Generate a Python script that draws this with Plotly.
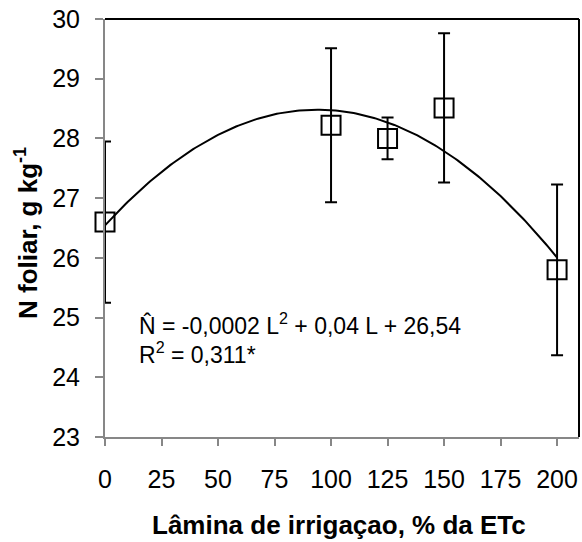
import plotly.graph_objects as go

# Irrigation depth (% of ETc) and mean foliar N (g/kg) with standard deviation
lamina = [0, 100, 125, 150, 200]
n_foliar = [26.6, 28.22, 28.0, 28.51, 25.8]
n_desvio = [1.35, 1.29, 0.35, 1.25, 1.43]

# Quadratic fit coefficients (a*L^2 + b*L + c)
coef_a = -0.00022
coef_b = 0.0413
coef_c = 26.544

x_ticks = [0, 25, 50, 75, 100, 125, 150, 175, 200]
y_ticks = [23, 24, 25, 26, 27, 28, 29, 30]

curve_x = [i for i in range(0, 201)]
curve_y = [coef_a * x * x + coef_b * x + coef_c for x in curve_x]

font_main = "Liberation Sans, Arial, sans-serif"
grey = "#878787"

fig = go.Figure()

fig.add_trace(go.Scatter(
    x=curve_x, y=curve_y, mode="lines",
    line=dict(color="black", width=2),
    hoverinfo="skip", showlegend=False, cliponaxis=False,
))

fig.add_trace(go.Scatter(
    x=lamina, y=n_foliar, mode="markers",
    marker=dict(symbol="square-open", size=19, color="black",
                line=dict(color="black", width=2)),
    error_y=dict(type="data", array=n_desvio, visible=True,
                 color="black", thickness=2, width=6),
    showlegend=False, cliponaxis=False,
))

fig.update_layout(
    width=582, height=542,
    margin=dict(l=105, r=3, t=19, b=105),
    paper_bgcolor="white", plot_bgcolor="white",
    font=dict(family=font_main, size=25, color="black"),
    xaxis=dict(
        range=[0, 209.7], tickvals=x_ticks, ticktext=[str(v) for v in x_ticks],
        showgrid=False, zeroline=False, showline=True, linecolor=grey, linewidth=2,
        ticks="outside", ticklen=7, tickwidth=2, tickcolor=grey,
        ticklabelstandoff=12, tickfont=dict(size=25, color="black"),
    ),
    yaxis=dict(
        range=[23, 30], tickvals=y_ticks, ticktext=[str(v) for v in y_ticks],
        showgrid=False, zeroline=False, showline=True, linecolor=grey, linewidth=2,
        ticks="outside", ticklen=8, tickwidth=2, tickcolor=grey,
        ticklabelstandoff=10, tickfont=dict(size=25, color="black"),
    ),
    shapes=[
        dict(type="line", xref="paper", yref="paper", x0=0, x1=1, y0=1, y1=1,
             line=dict(color="black", width=2)),
        dict(type="line", xref="paper", yref="paper", x0=1, x1=1, y0=0, y1=1,
             line=dict(color="black", width=2)),
    ],
    annotations=[
        dict(text="<b>Lâmina de irrigaçao, % da ETc</b>", xref="paper", yref="paper",
             x=(339 - 105) / 474, y=-(525 - 437) / 418, xanchor="center", yanchor="middle",
             showarrow=False, font=dict(size=26)),
        dict(text="<b>N foliar, g kg<sup>-1</sup></b>", xref="paper", yref="paper",
             x=-(105 - 26) / 474, y=(437 - 233) / 418, xanchor="center", yanchor="middle",
             textangle=-90, showarrow=False, font=dict(size=26)),
        dict(text="N\u0302 = -0,0002 L<sup>2</sup> + 0,04 L + 26,54", xref="x", yref="y",
             x=14.2, y=24.9, xanchor="left", yanchor="middle",
             showarrow=False, font=dict(size=23)),
        dict(text="R<sup>2</sup> = 0,311*", xref="x", yref="y",
             x=14.2, y=24.4, xanchor="left", yanchor="middle",
             showarrow=False, font=dict(size=23)),
    ],
)

fig.write_html("out.html")
